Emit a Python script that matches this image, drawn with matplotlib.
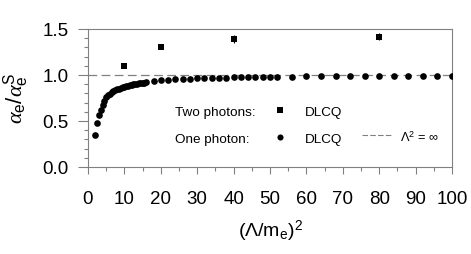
import matplotlib
matplotlib.use("Agg")
import matplotlib.pyplot as plt
from matplotlib.ticker import MultipleLocator

plt.rcParams["font.family"] = ["Liberation Sans", "DejaVu Sans"]
plt.rcParams["mathtext.fontset"] = "custom"
plt.rcParams["mathtext.rm"] = "Liberation Sans"
plt.rcParams["mathtext.it"] = "Liberation Serif:italic"

# one photon, DLCQ
x_one = [2, 2.5, 3, 3.5, 4, 4.5, 5, 5.5, 6, 6.5, 7, 7.5, 8, 8.5, 9, 9.5, 10,
         10.5, 11, 11.5, 12, 12.5, 13, 13.5, 14, 14.5, 15, 15.5, 16,
         18, 20, 22, 24, 26, 28, 30, 32, 34, 36, 38, 40, 42, 44, 46, 48, 50, 52,
         56, 60, 64, 68, 72, 76, 80, 84, 88, 92, 96, 100]
y_one = [0.35, 0.475, 0.565, 0.62, 0.67, 0.72, 0.76, 0.78, 0.795, 0.81, 0.822,
         0.833, 0.843, 0.852, 0.86, 0.867, 0.873, 0.879, 0.884, 0.889, 0.893,
         0.897, 0.901, 0.905, 0.908, 0.911, 0.914, 0.917, 0.92,
         0.93, 0.942, 0.948, 0.953, 0.957, 0.96, 0.963, 0.966, 0.968, 0.97,
         0.972, 0.974, 0.975, 0.976, 0.978, 0.979, 0.98, 0.981,
         0.983, 0.984, 0.985, 0.986, 0.987, 0.988, 0.988, 0.989, 0.99, 0.99,
         0.991, 0.991]

# two photons, DLCQ
x_two = [10, 20, 40, 80]
y_two = [1.10, 1.308, 1.39, 1.416]
err_two = [0.015, 0.025, 0.04, 0.04]

x_ticks = [0, 10, 20, 30, 40, 50, 60, 70, 80, 90, 100]
y_ticks = [0.0, 0.5, 1.0, 1.5]

grey = "#808080"

fig = plt.figure(figsize=(4.71, 2.54), dpi=100)
ax = fig.add_axes([0.1868, 0.3425, 0.7729, 0.5433])

ax.axhline(1.0, color=grey, lw=0.9, ls=(0, (7, 3.5)), zorder=1)
ax.plot(x_one, y_one, "o", color="black", ms=4.8, mew=0, zorder=3)
ax.errorbar(x_two, y_two, yerr=err_two, fmt="s", color="black", ms=4.4,
            mew=0, ecolor="black", elinewidth=0.8, capsize=2.4, capthick=0.8,
            zorder=3)

# legend drawn by hand
fs = 9.7
ax.text(23.9, 0.59, "Two photons:", fontsize=fs, va="center")
ax.plot([52.7], [0.62], "s", color="black", ms=3.8, mew=0)
ax.text(59.6, 0.59, "DLCQ", fontsize=fs, va="center")
ax.text(23.9, 0.295, "One photon:", fontsize=fs, va="center")
ax.plot([52.7], [0.33], "o", color="black", ms=4.4, mew=0)
ax.text(59.6, 0.295, "DLCQ", fontsize=fs, va="center")
ax.plot([75.2, 83.4], [0.345, 0.345], color=grey, lw=0.8, ls=(0, (5, 2)))
ax.text(85.7, 0.315, r"$\Lambda^2$ = $\infty$", fontsize=fs - 0.5, va="center")

ax.set_xlim(0, 100)
ax.set_ylim(0, 1.5)
ax.set_xticks(x_ticks)
ax.set_yticks(y_ticks)
ax.set_yticklabels([f"{v:.1f}" for v in y_ticks])
ax.xaxis.set_minor_locator(MultipleLocator(5))
ax.yaxis.set_minor_locator(MultipleLocator(0.1))
ax.tick_params(which="both", direction="out", color=grey, width=0.8,
               labelsize=13.5)
ax.tick_params(axis="x", which="major", length=5, pad=12)
ax.tick_params(axis="y", which="major", length=7, pad=7)
ax.tick_params(which="minor", length=3)
for s in ax.spines.values():
    s.set_color(grey)
    s.set_linewidth(0.8)

ax.set_xlabel(r"($\Lambda$/m$_{\rm e}$)$^2$", fontsize=14, labelpad=8)
ax.set_ylabel(r"$\alpha_{\rm e}/\alpha_{\rm e}^{\mathrm{S}}$", fontsize=16,
              labelpad=8)

fig.savefig("out.png", dpi=100)
